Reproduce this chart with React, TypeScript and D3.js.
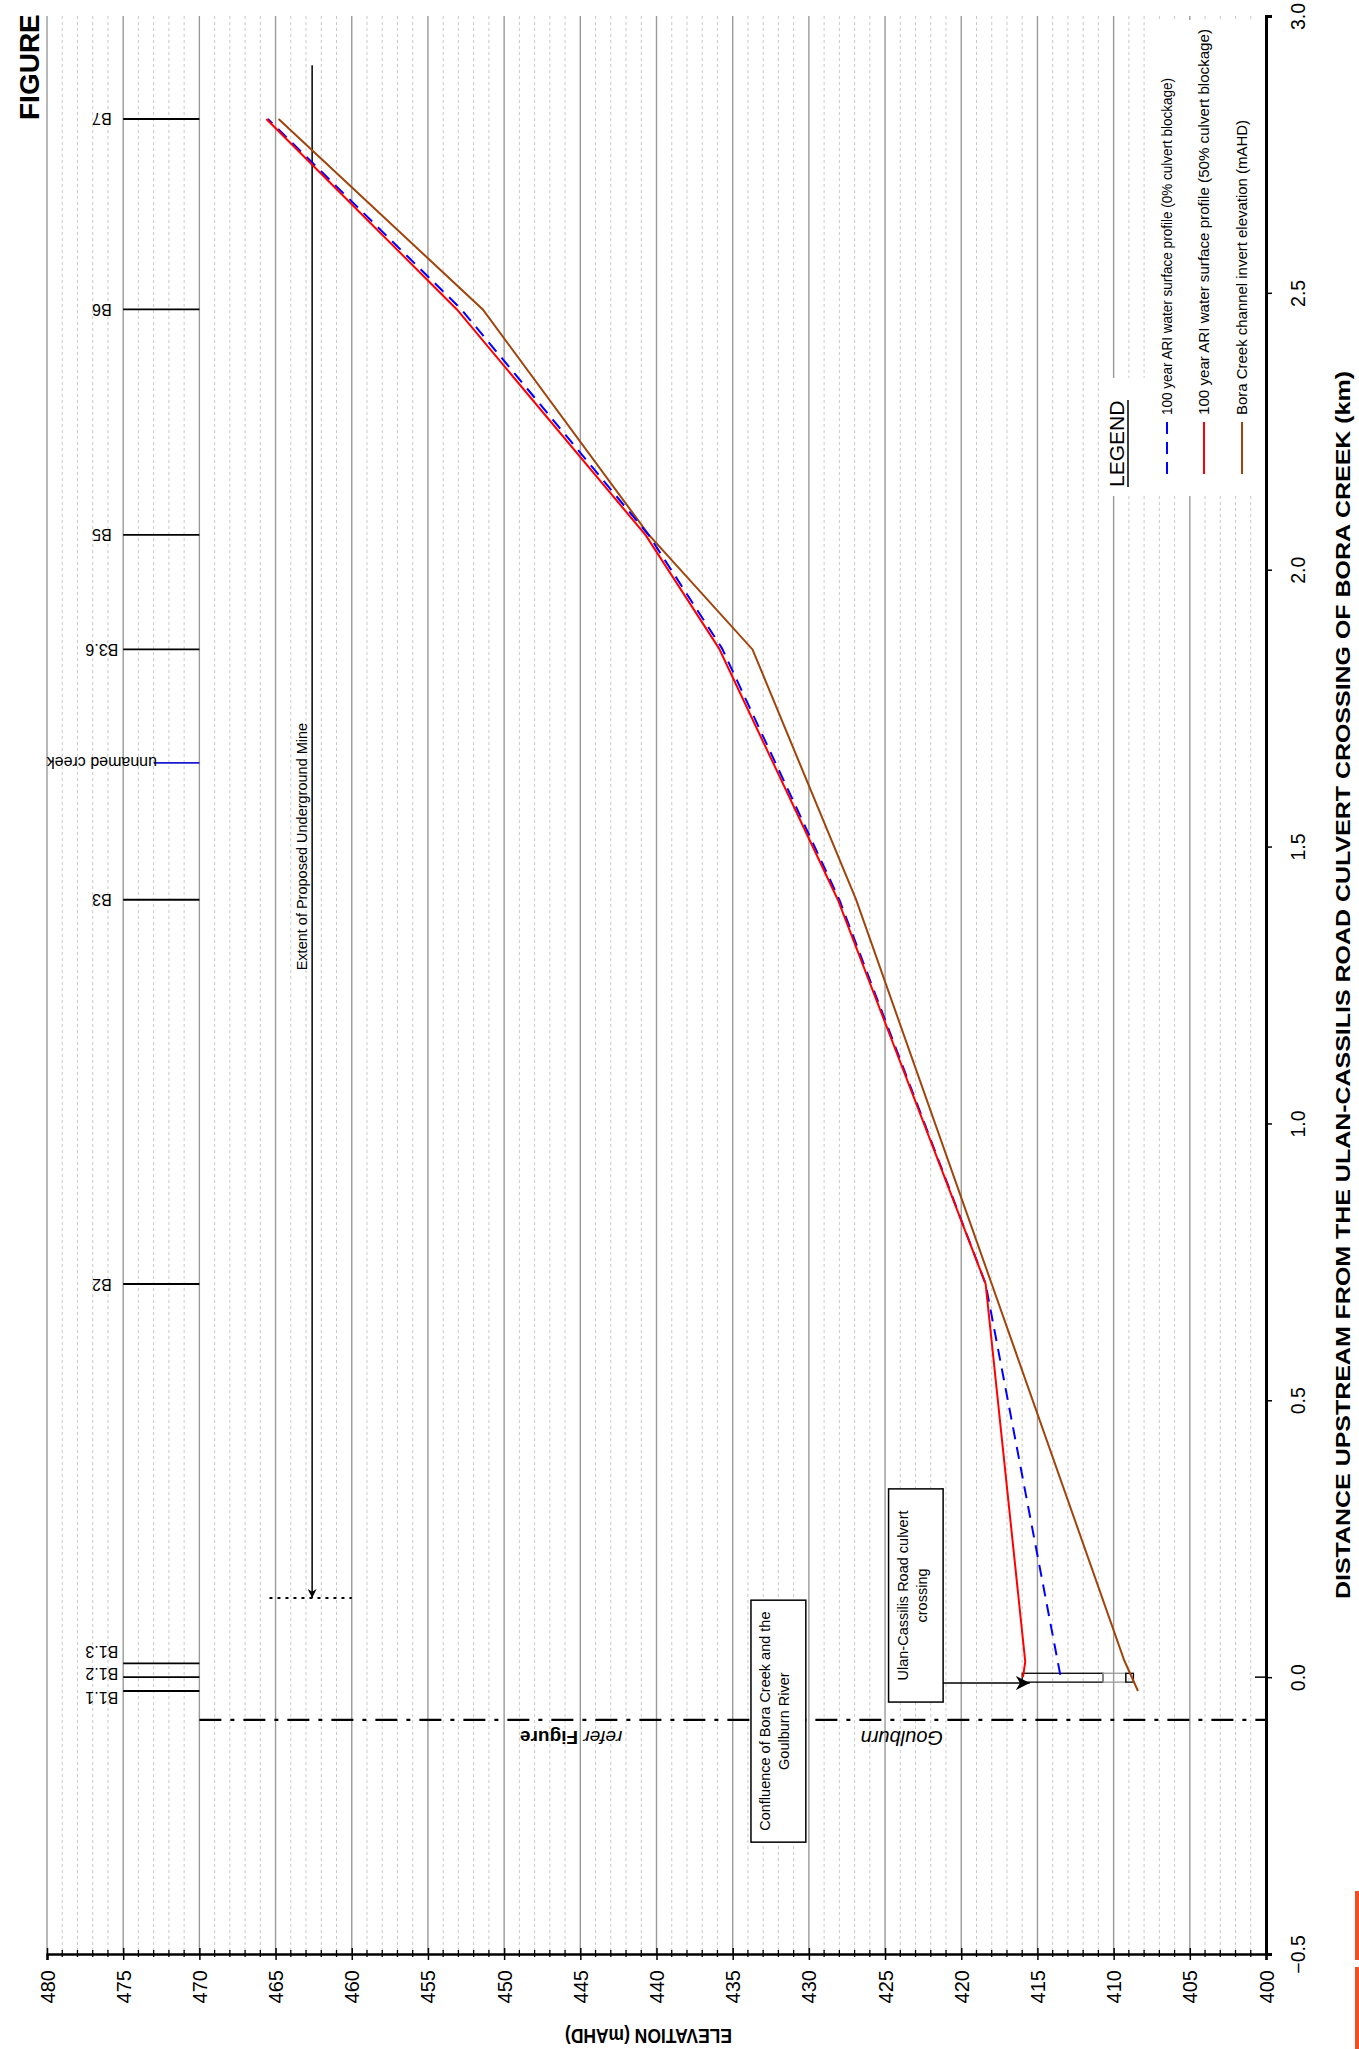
import { useEffect, useRef } from 'react';
import * as d3 from 'd3';

// Tick values
const distanceTicks = [-0.5, 0.0, 0.5, 1.0, 1.5, 2.0, 2.5, 3.0];
const elevationTicks = [480, 475, 470, 465, 460, 455, 450, 445, 440, 435, 430, 425, 420, 415, 410, 405, 400];

// Bora Creek channel invert elevation (mAHD)
const invertDistance = [-0.025, 0.03, 0.71, 1.404, 1.856, 2.063, 2.47, 2.814];
const invertElevation = [408.4, 409.3, 418.0, 426.9, 433.7, 440.5, 451.4, 464.8];

// 100 year ARI water surface profile (50% culvert blockage)
const wsl50Distance = [0.0, 0.028, 0.71, 1.404, 1.858, 2.062, 2.47, 2.814];
const wsl50Elevation = [415.95, 415.8, 418.4, 428.1, 435.9, 440.7, 453.1, 465.6];

// 100 year ARI water surface profile (0% culvert blockage)
const wsl0Distance = [0.004, 0.71, 1.404, 1.858, 2.062, 2.47, 2.814];
const wsl0Elevation = [413.5, 418.4, 428.0, 435.7, 440.5, 452.8, 465.5];

// Cross sections along the creek
const sectionNames = ['B1.1', 'B1.2', 'B1.3', 'B2', 'B3', 'unnamed creek', 'B3.6', 'B5', 'B6', 'B7'];
const sectionDistance = [-0.025, 0.0, 0.025, 0.71, 1.404, 1.651, 1.856, 2.063, 2.47, 2.814];

// Culvert outline (distance extent, elevation breaks)
const culvertDistance = [-0.009, 0.007];
const culvertElevation = [416.0, 410.7, 409.2, 408.7];

const legendLabels = [
  '100 year ARI water surface profile (0% culvert blockage)',
  '100 year ARI water surface profile (50% culvert blockage)',
  'Bora Creek channel invert elevation (mAHD)',
];

function App() {
  const ref = useRef<SVGSVGElement>(null);

  const svgWidth = 1359;
  const svgHeight = 2049;

  useEffect(() => {
    getChart();
  }, []);

  function getChart() {
    const svg = d3.select(ref.current);
    svg.selectAll('*').remove();

    // elevation runs across the page, distance runs up the page
    const x = d3.scaleLinear().domain([480, 400]).range([47, 1266]);
    const y = d3.scaleLinear().domain([-0.5, 3.0]).range([1954, 16]);

    const defs = svg.append('defs');
    defs
      .append('marker')
      .attr('id', 'arrow')
      .attr('viewBox', '0 0 10 10')
      .attr('refX', 10)
      .attr('refY', 5)
      .attr('markerWidth', 9)
      .attr('markerHeight', 9)
      .attr('markerUnits', 'userSpaceOnUse')
      .attr('orient', 'auto')
      .append('path')
      .attr('d', 'M0,0 L10,5 L0,10 L3,5 Z')
      .attr('fill', '#000');
    defs
      .append('marker')
      .attr('id', 'arrowBig')
      .attr('viewBox', '0 0 10 10')
      .attr('refX', 10)
      .attr('refY', 5)
      .attr('markerWidth', 14)
      .attr('markerHeight', 14)
      .attr('markerUnits', 'userSpaceOnUse')
      .attr('orient', 'auto')
      .append('path')
      .attr('d', 'M0,0 L10,5 L0,10 L3,5 Z')
      .attr('fill', '#000');

    svg.append('rect').attr('width', svgWidth).attr('height', svgHeight).attr('fill', '#fff');

    // Grid: minor every 1 m, major every 5 m
    const grid = svg.append('g');
    grid
      .selectAll('line.minor')
      .data(x.ticks(80).filter((v) => v % 5 !== 0))
      .join('line')
      .attr('x1', (d) => x(d))
      .attr('x2', (d) => x(d))
      .attr('y1', y(3.0))
      .attr('y2', y(-0.5))
      .attr('stroke', '#c8c8c8')
      .attr('stroke-width', 1)
      .attr('stroke-dasharray', '3,3');
    grid
      .selectAll('line.major')
      .data(elevationTicks.filter((v) => v !== 400))
      .join('line')
      .attr('x1', (d) => x(d))
      .attr('x2', (d) => x(d))
      .attr('y1', y(3.0))
      .attr('y2', y(-0.5))
      .attr('stroke', '#9a9a9a')
      .attr('stroke-width', 1.4);

    // Legend backgrounds hide the grid
    svg.append('rect').attr('x', 1100).attr('y', 378).attr('width', 160).attr('height', 118).attr('fill', '#fff');
    svg.append('rect').attr('x', 1150).attr('y', 20).attr('width', 110).attr('height', 400).attr('fill', '#fff');

    // Elevation axis (bottom)
    const xAxis = svg
      .append('g')
      .attr('transform', `translate(0, ${y(-0.5)})`)
      .call(d3.axisBottom(x).tickValues(elevationTicks).tickSize(6).tickFormat(d3.format('d')));
    xAxis.select('.domain').attr('stroke-width', 2.5);
    xAxis.selectAll('.tick line').attr('y1', -6).attr('y2', 6).attr('stroke-width', 1.5);
    xAxis
      .selectAll('.tick text')
      .attr('x', 0)
      .attr('y', 0)
      .attr('dy', 0)
      .attr('transform', 'translate(7, 16) rotate(-90)')
      .attr('text-anchor', 'end')
      .attr('font-size', 20)
      .attr('font-family', 'Liberation Sans, Arial, sans-serif');
    svg
      .append('g')
      .selectAll('line')
      .data(x.ticks(80).filter((v) => v % 5 !== 0))
      .join('line')
      .attr('x1', (d) => x(d))
      .attr('x2', (d) => x(d))
      .attr('y1', y(-0.5) - 4)
      .attr('y2', y(-0.5) + 3)
      .attr('stroke', '#000')
      .attr('stroke-width', 1.3);

    // Distance axis (right)
    const yAxis = svg
      .append('g')
      .attr('transform', `translate(${x(400)}, 0)`)
      .call(d3.axisRight(y).tickValues(distanceTicks).tickSize(6).tickFormat(d3.format('.1f')));
    yAxis.select('.domain').attr('stroke-width', 3);
    yAxis.selectAll('.tick line').attr('stroke-width', 1.5);
    yAxis
      .selectAll('.tick text')
      .attr('x', 0)
      .attr('dy', 0)
      .attr('transform', 'translate(39, 0) rotate(-90)')
      .attr('text-anchor', 'middle')
      .attr('font-size', 19.5)
      .attr('font-family', 'Liberation Sans, Arial, sans-serif');
    svg
      .append('line')
      .attr('x1', x(400) - 11)
      .attr('x2', x(400))
      .attr('y1', y(0))
      .attr('y2', y(0))
      .attr('stroke', '#000')
      .attr('stroke-width', 1.5);

    // Axis titles
    svg
      .append('text')
      .attr('transform', `translate(${(x(480) + x(400)) / 2 - 8}, 2029) rotate(180)`)
      .attr('text-anchor', 'middle')
      .attr('font-weight', 'bold')
      .attr('font-size', 21)
      .attr('textLength', 167)
      .attr('lengthAdjust', 'spacingAndGlyphs')
      .text('ELEVATION (mAHD)');
    svg
      .append('text')
      .attr('transform', `translate(1350, ${(y(-0.5) + y(3.0)) / 2}) rotate(-90)`)
      .attr('text-anchor', 'middle')
      .attr('font-weight', 'bold')
      .attr('font-size', 20)
      .attr('textLength', 1228)
      .attr('lengthAdjust', 'spacingAndGlyphs')
      .text('DISTANCE UPSTREAM FROM THE ULAN-CASSILIS ROAD CULVERT CROSSING OF BORA CREEK (km)');

    // FIGURE title (cut at top)
    svg
      .append('text')
      .attr('transform', 'translate(39, 120) rotate(-90)')
      .attr('font-weight', 'bold')
      .attr('font-size', 28)
      .text('FIGURE');

    // Cross section markers
    const sections = sectionNames.map((name, i) => ({ name, dist: sectionDistance[i] }));
    const labelNudge: Record<string, number> = { 'B1.3': -12, 'B1.2': -4, 'B1.1': 7 };
    svg
      .append('g')
      .selectAll('line')
      .data(sections)
      .join('line')
      .attr('x1', (d) => (d.name === 'unnamed creek' ? x(473) : x(475)))
      .attr('x2', x(470))
      .attr('y1', (d) => y(d.dist))
      .attr('y2', (d) => y(d.dist))
      .attr('stroke', (d) => (d.name === 'unnamed creek' ? '#1a1ad0' : '#000'))
      .attr('stroke-width', 1.8);
    svg
      .append('g')
      .selectAll('text')
      .data(sections)
      .join('text')
      .attr('transform', (d) => `translate(${x(476.4)}, ${y(d.dist) + (labelNudge[d.name] || 0)}) rotate(180)`)
      .attr('text-anchor', 'middle')
      .attr('dominant-baseline', 'central')
      .attr('font-size', 16)
      .text((d) => d.name);

    // Limit of figure (dash-dot)
    svg
      .append('line')
      .attr('x1', x(470))
      .attr('x2', x(400))
      .attr('y1', y(-0.077))
      .attr('y2', y(-0.077))
      .attr('stroke', '#000')
      .attr('stroke-width', 2.2)
      .attr('stroke-dasharray', '22,9,4,9');
    const refer = svg
      .append('text')
      .attr('transform', `translate(${x(445.6)}, ${y(-0.11)}) rotate(180)`)
      .attr('text-anchor', 'middle')
      .attr('dominant-baseline', 'central')
      .attr('font-size', 19);
    refer.append('tspan').attr('font-style', 'italic').text('refer ');
    refer.append('tspan').attr('font-weight', 'bold').text('Figure');
    svg
      .append('text')
      .attr('transform', `translate(${x(423.9)}, ${y(-0.11)}) rotate(180)`)
      .attr('text-anchor', 'middle')
      .attr('dominant-baseline', 'central')
      .attr('font-style', 'italic')
      .attr('font-size', 20)
      .text('Goulburn');

    // Extent of proposed underground mine
    svg
      .append('line')
      .attr('x1', x(462.6))
      .attr('x2', x(462.6))
      .attr('y1', y(2.911))
      .attr('y2', y(0.143))
      .attr('stroke', '#000')
      .attr('stroke-width', 1.5)
      .attr('marker-end', 'url(#arrow)');
    svg
      .append('line')
      .attr('x1', x(465.4))
      .attr('x2', x(460))
      .attr('y1', y(0.143))
      .attr('y2', y(0.143))
      .attr('stroke', '#000')
      .attr('stroke-width', 2)
      .attr('stroke-dasharray', '3,5');
    svg
      .append('text')
      .attr('transform', `translate(${x(462.6) - 5}, ${y(1.5)}) rotate(-90)`)
      .attr('text-anchor', 'middle')
      .attr('font-size', 14.5)
      .text('Extent of Proposed Underground Mine');

    // Annotation boxes
    const boxes = [
      { e0: 433.8, e1: 430.2, d0: 0.139, d1: -0.298, lines: ['Confluence of Bora Creek and the', 'Goulburn River'] },
      { e0: 424.77, e1: 421.19, d0: 0.34, d1: -0.045, lines: ['Ulan-Cassilis Road culvert', 'crossing'] },
    ];
    boxes.forEach((b) => {
      svg
        .append('rect')
        .attr('x', x(b.e0))
        .attr('y', y(b.d0))
        .attr('width', x(b.e1) - x(b.e0))
        .attr('height', y(b.d1) - y(b.d0))
        .attr('fill', '#fff')
        .attr('stroke', '#000')
        .attr('stroke-width', 1.5);
      const cx = (x(b.e0) + x(b.e1)) / 2;
      const cy = (y(b.d0) + y(b.d1)) / 2;
      b.lines.forEach((t, i) => {
        svg
          .append('text')
          .attr('transform', `translate(${cx - 8 + i * 19}, ${cy}) rotate(-90)`)
          .attr('text-anchor', 'middle')
          .attr('font-size', 14.5)
          .text(t);
      });
    });
    svg
      .append('line')
      .attr('x1', x(421.19))
      .attr('x2', x(415.5))
      .attr('y1', y(-0.0106))
      .attr('y2', y(-0.0106))
      .attr('stroke', '#000')
      .attr('stroke-width', 1.5)
      .attr('marker-end', 'url(#arrowBig)');

    // Culvert
    const culvertParts = [
      { top: culvertElevation[0], bottom: culvertElevation[1], stroke: '#000' },
      { top: culvertElevation[1], bottom: culvertElevation[2], stroke: '#999' },
      { top: culvertElevation[2], bottom: culvertElevation[3], stroke: '#000' },
    ];
    svg
      .append('g')
      .selectAll('rect')
      .data(culvertParts)
      .join('rect')
      .attr('x', (d) => x(d.top))
      .attr('y', y(culvertDistance[1]))
      .attr('width', (d) => x(d.bottom) - x(d.top))
      .attr('height', y(culvertDistance[0]) - y(culvertDistance[1]))
      .attr('fill', 'none')
      .attr('stroke', (d) => d.stroke)
      .attr('stroke-width', 1.3);

    // Profiles
    const line = d3
      .line<[number, number]>()
      .x((d) => x(d[1]))
      .y((d) => y(d[0]));
    const series = [
      { dist: invertDistance, elev: invertElevation, color: '#a0440c', dash: null },
      { dist: wsl0Distance, elev: wsl0Elevation, color: '#0000ff', dash: '12,8' },
      { dist: wsl50Distance, elev: wsl50Elevation, color: '#ff0000', dash: null },
    ];
    svg
      .append('g')
      .selectAll('path')
      .data(series)
      .join('path')
      .attr('d', (s) => line(s.dist.map((d, i) => [d, s.elev[i]] as [number, number])))
      .attr('fill', 'none')
      .attr('stroke', (s) => s.color)
      .attr('stroke-width', 2)
      .attr('stroke-dasharray', (s) => s.dash);

    // Legend
    svg
      .append('text')
      .attr('transform', 'translate(1124, 487) rotate(-90)')
      .attr('font-size', 21)
      .text('LEGEND');
    svg.append('line').attr('x1', 1128).attr('x2', 1128).attr('y1', 400).attr('y2', 487).attr('stroke', '#000').attr('stroke-width', 1.5);
    const legendColors = ['#0000ff', '#ff0000', '#a0440c'];
    const legendDash = ['12,8', null, null];
    const legendX = [1167, 1204, 1242];
    const legendLength = [337, 386, 295];
    legendLabels.forEach((label, i) => {
      svg
        .append('line')
        .attr('x1', legendX[i])
        .attr('x2', legendX[i])
        .attr('y1', 422)
        .attr('y2', 474)
        .attr('stroke', legendColors[i])
        .attr('stroke-width', 2)
        .attr('stroke-dasharray', legendDash[i]);
      svg
        .append('text')
        .attr('transform', `translate(${legendX[i] + 5}, 415) rotate(-90)`)
        .attr('font-size', 14.5)
        .attr('textLength', legendLength[i])
        .attr('lengthAdjust', 'spacingAndGlyphs')
        .text(label);
    });

    // Page border marks
    svg.append('rect').attr('x', 1355).attr('y', 1891).attr('width', 4).attr('height', 69).attr('fill', '#f04e23');
    svg.append('rect').attr('x', 1355).attr('y', 1967).attr('width', 4).attr('height', 82).attr('fill', '#f04e23');
  }

  return (
    <svg
      ref={ref}
      width={svgWidth}
      height={svgHeight}
      style={{ position: 'absolute', left: 0, top: 0, fontFamily: 'Liberation Sans, Arial, sans-serif' }}
    ></svg>
  );
}

export default App;
